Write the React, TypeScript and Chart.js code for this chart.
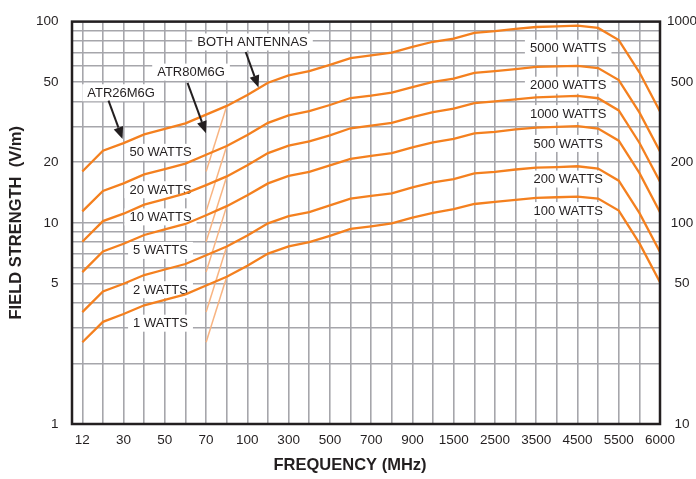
import React, { useEffect, useRef } from 'react';
import { Chart, registerables } from 'chart.js';

Chart.register(...registerables);

// Frequency grid positions (MHz); only every other line carries a label.
const FREQ_TICKS = [
  '12', '', '30', '', '50', '', '70', '', '100', '', '300', '', '500', '', '700', '',
  '900', '', '1500', '', '2500', '', '3500', '', '4500', '', '5500', '', '6000',
];

// Field strength (V/m, left axis) at each frequency grid line.
// Left-axis power refers to the low-band antennas; the right axis (x10) is for both antennas at 100x power.
const FIELD_50W = [18.0, 22.8, 24.9, 27.5, 29.3, 31.2, 34.5, 38.1, 43.2, 49.7, 54.0, 56.7, 60.9, 65.9, 67.9, 70.2, 74.8, 79.4, 82.4, 87.9, 89.6, 91.9, 94.0, 94.7, 95.4, 93.0, 81.0, 56.0, 35.8];
const FIELD_20W = [11.4, 14.4, 15.7, 17.4, 18.5, 19.7, 21.8, 24.1, 27.3, 31.4, 34.2, 35.9, 38.5, 41.7, 42.9, 44.4, 47.3, 50.2, 52.1, 55.6, 56.7, 58.1, 59.5, 59.9, 60.3, 58.8, 51.2, 35.4, 22.6];
const FIELD_10W = [8.05, 10.2, 11.1, 12.3, 13.1, 14.0, 15.4, 17.0, 19.3, 22.2, 24.2, 25.4, 27.2, 29.5, 30.4, 31.4, 33.5, 35.5, 36.9, 39.3, 40.1, 41.1, 42.0, 42.4, 42.7, 41.6, 36.2, 25.0, 16.0];
const FIELD_5W = [5.69, 7.21, 7.87, 8.70, 9.27, 9.87, 10.9, 12.1, 13.7, 15.7, 17.1, 17.9, 19.3, 20.8, 21.5, 22.2, 23.7, 25.1, 26.1, 27.8, 28.3, 29.1, 29.7, 30.0, 30.2, 29.4, 25.6, 17.7, 11.3];
const FIELD_2W = [3.60, 4.56, 4.98, 5.50, 5.86, 6.24, 6.90, 7.62, 8.64, 9.94, 10.8, 11.3, 12.2, 13.2, 13.6, 14.0, 15.0, 15.9, 16.5, 17.6, 17.9, 18.4, 18.8, 18.9, 19.1, 18.6, 16.2, 11.2, 7.16];
const FIELD_1W = [2.55, 3.22, 3.52, 3.89, 4.14, 4.41, 4.88, 5.39, 6.11, 7.03, 7.64, 8.02, 8.61, 9.32, 9.60, 9.93, 10.6, 11.2, 11.7, 12.4, 12.7, 13.0, 13.3, 13.4, 13.5, 13.2, 11.5, 7.92, 5.06];

const CURVE_NAMES = ['50 W / 5000 W', '20 W / 2000 W', '10 W / 1000 W', '5 W / 500 W', '2 W / 200 W', '1 W / 100 W'];
const CURVES = [FIELD_50W, FIELD_20W, FIELD_10W, FIELD_5W, FIELD_2W, FIELD_1W];

// ATR80M6G starting level at 70 MHz (grid index 6), rising to the common curve at 80 MHz (index 7).
const ATR80_START_INDEX = 6;
const ATR80_JOIN_INDEX = 7;
const ATR80_AT_70MHZ = [18.0, 11.4, 8.05, 5.69, 3.60, 2.55];

// Left-axis and right-axis labelled values.
const LEFT_LABELS = [1, 5, 10, 20, 50, 100];
const RIGHT_LABELS = [10, 50, 100, 200, 500, 1000];
const LEFT_GRID = [1, 2, 3, 4, 5, 6, 7, 8, 9, 10, 20, 30, 40, 50, 60, 70, 80, 90, 100];

// Text notes in data coordinates (x = grid index, y = left-axis V/m).
const NOTES: { text: string; x: number; y: number }[] = [
  { text: '50 WATTS', x: 3.79, y: 22.4 },
  { text: '20 WATTS', x: 3.79, y: 14.6 },
  { text: '10 WATTS', x: 3.79, y: 10.7 },
  { text: '5 WATTS', x: 3.79, y: 7.29 },
  { text: '2 WATTS', x: 3.79, y: 4.65 },
  { text: '1 WATTS', x: 3.79, y: 3.17 },
  { text: '5000 WATTS', x: 23.55, y: 73.7 },
  { text: '2000 WATTS', x: 23.55, y: 48.3 },
  { text: '1000 WATTS', x: 23.55, y: 34.9 },
  { text: '500 WATTS', x: 23.55, y: 24.8 },
  { text: '200 WATTS', x: 23.55, y: 16.5 },
  { text: '100 WATTS', x: 23.55, y: 11.5 },
  { text: 'BOTH ANTENNAS', x: 8.25, y: 79.2 },
  { text: 'ATR80M6G', x: 5.27, y: 56.1 },
  { text: 'ATR26M6G', x: 1.88, y: 44.3 },
];

const ARROWS: { from: [number, number]; to: [number, number] }[] = [
  { from: [7.92, 70.6], to: [8.54, 47.1] },
  { from: [5.10, 49.6], to: [5.995, 27.9] },
  { from: [1.27, 40.5], to: [1.95, 26.1] },
];

const INK = '#231f20';
const ORANGE = '#f4801f';
const LIGHT_ORANGE = '#f8b482';
const GRID = '#a6a6ab';
const FONT = '"Liberation Sans", Arial, Helvetica, sans-serif';

const annotate = {
  id: 'annotate',
  beforeDatasetsDraw(chart: any) {
    const { ctx } = chart;
    const x = chart.scales.x;
    const y = chart.scales.y;
    ctx.save();
    ctx.font = `13px ${FONT}`;
    ctx.textAlign = 'center';
    ctx.textBaseline = 'middle';
    for (const n of NOTES) {
      const px = x.getPixelForValue(n.x);
      const py = y.getPixelForValue(n.y);
      const w = ctx.measureText(n.text).width + 10;
      ctx.fillStyle = '#ffffff';
      ctx.fillRect(px - w / 2, py - 8.5, w, 17);
      ctx.fillStyle = INK;
      ctx.fillText(n.text, px, py + 0.5);
    }
    ctx.restore();
  },
  afterDatasetsDraw(chart: any) {
    const { ctx, chartArea } = chart;
    const x = chart.scales.x;
    const y = chart.scales.y;
    ctx.save();
    ctx.strokeStyle = INK;
    ctx.fillStyle = INK;
    ctx.lineWidth = 2;
    for (const a of ARROWS) {
      const x0 = x.getPixelForValue(a.from[0]);
      const y0 = y.getPixelForValue(a.from[1]);
      const x1 = x.getPixelForValue(a.to[0]);
      const y1 = y.getPixelForValue(a.to[1]);
      const ang = Math.atan2(y1 - y0, x1 - x0);
      const head = 12;
      const half = 5;
      const bx = x1 - head * Math.cos(ang);
      const by = y1 - head * Math.sin(ang);
      ctx.beginPath();
      ctx.moveTo(x0, y0);
      ctx.lineTo(bx, by);
      ctx.stroke();
      ctx.beginPath();
      ctx.moveTo(x1, y1);
      ctx.lineTo(bx + half * Math.sin(ang), by - half * Math.cos(ang));
      ctx.lineTo(bx - half * Math.sin(ang), by + half * Math.cos(ang));
      ctx.closePath();
      ctx.fill();
    }
    // plot frame
    ctx.lineWidth = 2.5;
    ctx.strokeRect(chartArea.left, chartArea.top, chartArea.right - chartArea.left, chartArea.bottom - chartArea.top);
    ctx.restore();
  },
  afterDraw(chart: any) {
    const { ctx, chartArea } = chart;
    ctx.save();
    ctx.fillStyle = INK;
    ctx.font = `bold 16.5px ${FONT}`;
    ctx.textAlign = 'center';
    ctx.textBaseline = 'middle';
    ctx.fillText('FREQUENCY (MHz)', chart.width / 2 + 2, 465.5);
    ctx.translate(16, (chartArea.top + chartArea.bottom) / 2);
    ctx.rotate(-Math.PI / 2);
    ctx.fillText('FIELD STRENGTH  (V/m)', 0, 0);
    ctx.restore();
  },
};

export default function App() {
  const canvasRef = useRef<HTMLCanvasElement | null>(null);

  useEffect(() => {
    const canvas = canvasRef.current;
    if (!canvas) return;

    const mainSets = CURVES.map((vals, k) => ({
      label: CURVE_NAMES[k],
      data: vals.map((v, i) => ({ x: i, y: v })),
      borderColor: ORANGE,
      borderWidth: 2.3,
      pointRadius: 0,
      tension: 0,
      fill: false,
      order: 0,
    }));
    const atr80Sets = ATR80_AT_70MHZ.map((v, k) => ({
      label: 'ATR80M6G ' + CURVE_NAMES[k],
      data: [
        { x: ATR80_START_INDEX, y: v },
        { x: ATR80_JOIN_INDEX, y: CURVES[k][ATR80_JOIN_INDEX] },
      ],
      borderColor: LIGHT_ORANGE,
      borderWidth: 1.5,
      pointRadius: 0,
      tension: 0,
      fill: false,
      order: 1,
    }));

    const tickFont = { family: FONT, size: 13.5 };

    const chart = new Chart(canvas, {
      type: 'line',
      data: { datasets: [...mainSets, ...atr80Sets] as any },
      plugins: [annotate],
      options: {
        animation: false,
        responsive: false,
        devicePixelRatio: 1,
        layout: { padding: { top: 13.5, left: 0, right: 0, bottom: 0 } },
        plugins: {
          legend: { display: false },
          tooltip: { enabled: false },
          title: { display: false },
        },
        scales: {
          x: {
            type: 'linear',
            min: -0.5,
            max: FREQ_TICKS.length - 1,
            afterBuildTicks: (s: any) => {
              s.ticks = FREQ_TICKS.map((_, i) => ({ value: i }));
            },
            afterFit: (s: any) => {
              s.height = 55;
            },
            ticks: {
              autoSkip: false,
              maxRotation: 0,
              padding: 8.5,
              color: INK,
              font: tickFont,
              callback: (v: any) => FREQ_TICKS[v] ?? '',
            },
            grid: { color: GRID, lineWidth: 1.6, drawTicks: false },
            border: { display: false },
          },
          y: {
            type: 'logarithmic',
            position: 'left',
            min: 1,
            max: 100,
            afterBuildTicks: (s: any) => {
              s.ticks = LEFT_GRID.map((v) => ({ value: v }));
            },
            afterFit: (s: any) => {
              s.width = 72;
            },
            ticks: {
              autoSkip: false,
              padding: 13.5,
              color: INK,
              font: tickFont,
              callback: (v: any) => (LEFT_LABELS.includes(v) ? String(v) : ''),
            },
            grid: { color: GRID, lineWidth: 1.6, drawTicks: false },
            border: { display: false },
          },
          y2: {
            type: 'logarithmic',
            position: 'right',
            min: 10,
            max: 1000,
            afterBuildTicks: (s: any) => {
              s.ticks = RIGHT_LABELS.map((v) => ({ value: v }));
            },
            afterFit: (s: any) => {
              s.width = 36;
            },
            ticks: {
              autoSkip: false,
              padding: 7,
              crossAlign: 'center',
              color: INK,
              font: tickFont,
              callback: (v: any) => String(v),
            },
            grid: { display: false, drawTicks: false },
            border: { display: false },
          },
        },
      } as any,
    });

    return () => chart.destroy();
  }, []);

  return (
    <div style={{ position: 'absolute', left: 0, top: 0, width: 696, height: 479, background: '#ffffff' }}>
      <canvas ref={canvasRef} width={696} height={479} style={{ display: 'block' }} />
    </div>
  );
}
